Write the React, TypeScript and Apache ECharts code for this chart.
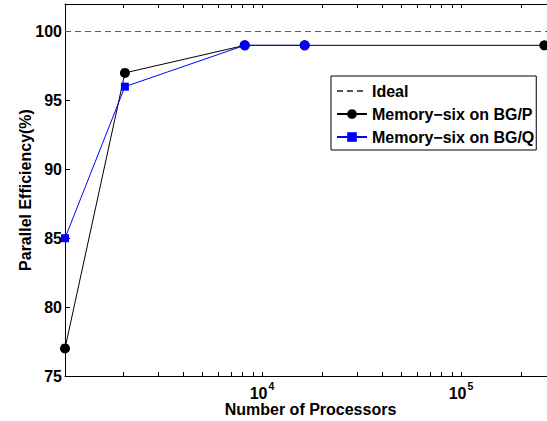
import React, { useEffect, useRef } from "react";
import * as echarts from "echarts";

const processorsP = [1024, 2048, 8192, 16384, 262144];
const efficiencyP = [77, 97, 99, 99, 99];
const processorsQ = [1024, 2048, 8192, 16384];
const efficiencyQ = [85, 96, 99, 99];
const idealX = [1024, 300000];
const idealY = [100, 100];
const xMinorTicks = [
  2000, 3000, 4000, 5000, 6000, 7000, 8000, 9000,
  10000, 20000, 30000, 40000, 50000, 60000, 70000, 80000, 90000,
  100000, 200000,
];
const xLabelTicks = [10000, 100000];
const seriesNames = ["Ideal", "Memory\u2212six on BG/P", "Memory\u2212six on BG/Q"];

const FONT = "'Liberation Sans', Arial, Helvetica, sans-serif";
const FS = 16;

export default function App() {
  const ref = useRef<HTMLDivElement>(null);
  useEffect(() => {
    if (!ref.current) return;
    const chart = echarts.init(ref.current, null, { renderer: "svg" });
    const xBase = {
      type: "log" as const,
      logBase: 10,
      min: 1024,
      max: 300000,
      splitLine: { show: false },
      axisLine: { show: true, lineStyle: { color: "#000", width: 1 } },
      axisTick: {
        show: true,
        inside: true,
        length: 4,
        customValues: xMinorTicks,
        lineStyle: { color: "#000" },
      },
    };
    chart.setOption({
      animation: false,
      grid: { left: 65, top: 4, width: 491, height: 372, show: false, outerBoundsMode: "none", containLabel: false },
      xAxis: [
        {
          ...xBase,
          position: "bottom",
          name: "Number of Processors",
          nameLocation: "middle",
          nameGap: 25,
          nameMoveOverlap: false,
          nameTextStyle: { fontFamily: FONT, fontWeight: "bold", fontSize: FS, color: "#000" },
          axisLabel: {
            customValues: xLabelTicks,
            margin: 4,
            formatter: (v: number) => `{b|10}{s|${Math.round(Math.log10(v))}}`,
            rich: {
              b: { fontFamily: FONT, fontWeight: "bold", fontSize: FS, color: "#000", verticalAlign: "bottom" },
              s: { fontFamily: FONT, fontWeight: "bold", fontSize: 10.5, color: "#000", verticalAlign: "top", padding: [0, 0, 10, 1] },
            },
          },
        },
        {
          ...xBase,
          position: "top",
          axisLabel: { show: false },
        },
      ],
      yAxis: {
        type: "value",
        min: 75,
        max: 102,
        interval: 5,
        name: "Parallel Efficiency(%)",
        nameLocation: "middle",
        nameGap: 32,
        nameMoveOverlap: false,
        nameTextStyle: { fontFamily: FONT, fontWeight: "bold", fontSize: FS, color: "#000" },
        splitLine: { show: false },
        axisLine: { show: true, lineStyle: { color: "#000", width: 1 } },
        axisTick: { show: true, inside: true, length: 5, lineStyle: { color: "#000" } },
        axisLabel: {
          margin: 3,
          fontFamily: FONT,
          fontWeight: "bold",
          fontSize: FS,
          color: "#000",
          showMaxLabel: false,
          formatter: (v: number) => (v > 100 ? "" : String(v)),
        },
      },
      legend: {
        orient: "vertical",
        left: 331,
        top: 76,
        padding: [7, 2, 5, 5],
        itemGap: 7,
        itemWidth: 30,
        itemHeight: 12,
        backgroundColor: "#fff",
        borderColor: "#000",
        borderWidth: 1,
        borderRadius: 0,
        data: [
          { name: seriesNames[0], itemStyle: { color: "rgba(0,0,0,0)", opacity: 0 } },
          seriesNames[1],
          seriesNames[2],
        ],
        textStyle: { fontFamily: FONT, fontWeight: "bold", fontSize: FS, color: "#000", lineHeight: 16 },
      },
      series: [
        {
          name: seriesNames[0],
          type: "line",
          xAxisIndex: 0,
          data: idealX.map((x, i) => [x, idealY[i]]),
          symbol: "none",
          lineStyle: { color: "#555", width: 1, type: [6, 4] },
          itemStyle: { color: "#555" },
          silent: true,
        },
        {
          name: seriesNames[1],
          type: "line",
          data: processorsP.map((x, i) => [x, efficiencyP[i]]),
          symbol: "circle",
          symbolSize: 10,
          lineStyle: { color: "#000", width: 1 },
          itemStyle: { color: "#000" },
          silent: true,
        },
        {
          name: seriesNames[2],
          type: "line",
          data: processorsQ.map((x, i) =>
            x >= 8192
              ? { value: [x, efficiencyQ[i]], symbol: "circle", symbolSize: 10 }
              : [x, efficiencyQ[i]]
          ),
          symbol: "rect",
          symbolSize: 8,
          lineStyle: { color: "#0000ff", width: 1 },
          itemStyle: { color: "#0000ff" },
          silent: true,
        },
      ],
    });
    return () => chart.dispose();
  }, []);
  return (
    <div
      ref={ref}
      style={{ position: "fixed", left: 0, top: 0, width: 547, height: 421, background: "#fff" }}
    />
  );
}
